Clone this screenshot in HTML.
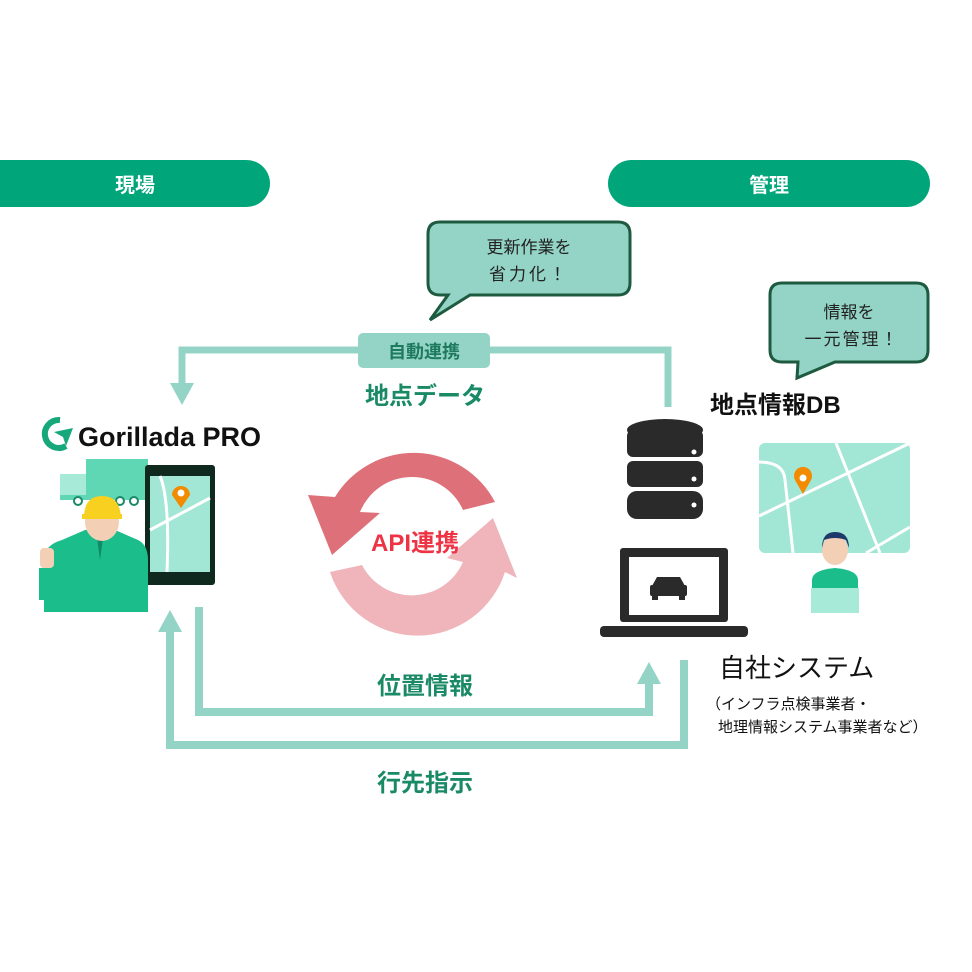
<!DOCTYPE html>
<html><head><meta charset="utf-8"><style>
html,body{margin:0;padding:0;background:#fff}
svg{display:block}
text{font-family:"Liberation Sans","Noto Sans CJK JP",sans-serif}
</style></head><body>
<svg width="972" height="972" viewBox="0 0 972 972" xmlns="http://www.w3.org/2000/svg">
<!-- header pills -->
<rect x="-30" y="160" width="300" height="47" rx="23.5" fill="#00a67a"/>
<text x="135" y="192" font-size="20" font-weight="bold" fill="#fff" text-anchor="middle">現場</text>
<rect x="608" y="160" width="322" height="47" rx="23.5" fill="#00a67a"/>
<text x="769" y="192" font-size="20" font-weight="bold" fill="#fff" text-anchor="middle">管理</text>

<!-- bubble 1 -->
<path d="M440 222 H618 Q630 222 630 234 V283 Q630 295 618 295 H470 L430 320 L448 295 H440 Q428 295 428 283 V234 Q428 222 440 222 Z" fill="#94d4c6" stroke="#1d5a3f" stroke-width="3"/>
<text x="529" y="253" font-size="17" fill="#222" text-anchor="middle">更新作業を</text>
<text x="529" y="280" font-size="17" fill="#222" text-anchor="middle" letter-spacing="3">省力化！</text>
<!-- bubble 2 -->
<path d="M782 283 H916 Q928 283 928 295 V350 Q928 362 916 362 H835 L797 378 L798 362 H782 Q770 362 770 350 V295 Q770 283 782 283 Z" fill="#94d4c6" stroke="#1d5a3f" stroke-width="3"/>
<text x="849" y="318" font-size="17" fill="#222" text-anchor="middle">情報を</text>
<text x="852" y="345" font-size="17" fill="#222" text-anchor="middle" letter-spacing="2">一元管理！</text>

<!-- top connector -->
<path d="M668 407 V350 H182 V385" fill="none" stroke="#94d4c6" stroke-width="7"/>
<polygon points="170,383 194,383 182,405" fill="#94d4c6"/>
<rect x="358" y="333" width="132" height="35" rx="5" fill="#94d4c6"/>
<text x="424" y="358" font-size="18" font-weight="bold" fill="#1e7a5e" text-anchor="middle">自動連携</text>
<text x="425" y="404" font-size="24" font-weight="bold" fill="#1a8a66" text-anchor="middle">地点データ</text>

<!-- bottom connectors -->
<path d="M199 607 V712 H649 V680" fill="none" stroke="#94d4c6" stroke-width="8"/>
<polygon points="637,684 661,684 649,662" fill="#94d4c6"/>
<path d="M684 660 V745 H170 V630" fill="none" stroke="#94d4c6" stroke-width="8"/>
<polygon points="158,632 182,632 170,610" fill="#94d4c6"/>
<text x="425" y="694" font-size="24" font-weight="bold" fill="#1a8a66" text-anchor="middle">位置情報</text>
<text x="425" y="791" font-size="24" font-weight="bold" fill="#1a8a66" text-anchor="middle">行先指示</text>

<!-- API cycle -->
<path d="M495 502 A92 92 0 0 0 335 497 L308 495 L332 555 L380 513 L360 512 A56 56 0 0 1 463 510 Z" fill="#de7079"/>
<path d="M330 572 A92 92 0 0 0 505 572 L517 578 L493 518 L447 558 L463 562 A56 56 0 0 1 362 565 Z" fill="#efb5ba"/>
<text x="415" y="551" font-size="24" font-weight="bold" fill="#ee3344" text-anchor="middle">API連携</text>

<!-- Gorillada logo -->
<path d="M60 420 A14 14 0 1 0 66 446" fill="none" stroke="#16a77a" stroke-width="6"/>
<polygon points="54,432 73,428 66,446 63,437" fill="#16a77a"/>
<text x="78" y="446" font-size="27" font-weight="bold" fill="#111">Gorillada PRO</text>

<!-- truck -->
<rect x="86" y="459" width="62" height="36" fill="#5fd6b4"/>
<path d="M60 474 H86 V497 H60 Z" fill="#a8ead8"/>
<rect x="60" y="495" width="90" height="5" fill="#5fd6b4"/>
<circle cx="78" cy="501" r="4" fill="#fff" stroke="#1b8a6a" stroke-width="2"/>
<circle cx="120" cy="501" r="4" fill="#fff" stroke="#1b8a6a" stroke-width="2"/>
<circle cx="134" cy="501" r="4" fill="#fff" stroke="#1b8a6a" stroke-width="2"/>
<!-- phone -->
<rect x="145" y="465" width="70" height="120" rx="3" fill="#10291f"/>
<rect x="150" y="476" width="60" height="96" fill="#a2e6d6"/>
<path d="M150 530 L210 498 M160 476 Q170 500 167 572" stroke="#fff" stroke-width="3" fill="none"/>
<path d="M181 508 L172 495 A9 9 0 1 1 190 495 Z" fill="#f28b00"/>
<circle cx="181" cy="493" r="3.5" fill="#fff"/>
<!-- worker -->
<path d="M44 612 V560 Q44 545 62 540 L85 530 H115 L138 540 Q148 545 148 560 V612 Z" fill="#1bbd8b"/>
<path d="M96 530 L100 560 L104 530 Z" fill="#0f8a64"/>
<ellipse cx="102" cy="522" rx="17" ry="19" fill="#f2cfb5"/>
<path d="M84 518 Q84 496 102 496 Q120 496 121 518 Z" fill="#f7d020"/>
<rect x="82" y="514" width="40" height="5" fill="#f7d020"/>
<rect x="40" y="548" width="14" height="20" rx="4" fill="#f2cfb5"/>
<path d="M44 568 V600" stroke="#1bbd8b" stroke-width="10"/>

<!-- DB -->
<g fill="#2a2a2a">
<ellipse cx="665" cy="430" rx="38" ry="11"/>
<rect x="627" y="430" width="76" height="27" rx="6"/>
<rect x="627" y="461" width="76" height="26" rx="6"/>
<rect x="627" y="491" width="76" height="28" rx="10"/>
</g>
<circle cx="694" cy="452" r="2.5" fill="#fff"/>
<circle cx="694" cy="479" r="2.5" fill="#fff"/>
<circle cx="694" cy="505" r="2.5" fill="#fff"/>
<text x="710" y="413" font-size="24" font-weight="bold" fill="#111">地点情報DB</text>
<!-- laptop -->
<rect x="620" y="548" width="108" height="74" rx="3" fill="#2a2a2a"/>
<rect x="629" y="557" width="90" height="58" fill="#fff"/>
<rect x="600" y="626" width="148" height="11" rx="4" fill="#2a2a2a"/>
<path d="M657 577 H680 L685 586 H652 Z" fill="#2a2a2a"/>
<rect x="650" y="585" width="37" height="11" rx="2" fill="#2a2a2a"/>
<rect x="652" y="594" width="6" height="6" fill="#2a2a2a"/>
<rect x="679" y="594" width="6" height="6" fill="#2a2a2a"/>
<!-- map -->
<rect x="759" y="443" width="151" height="110" rx="6" fill="#a2e6d6"/>
<path d="M759 516 L910 443 M836 443 L880 553 M759 462 Q784 462 785 480 L793 553 M866 553 L910 527" stroke="#fff" stroke-width="3" fill="none"/>
<path d="M803 494 L795 480 A9 9 0 1 1 811 480 Z" fill="#f28b00"/>
<circle cx="803" cy="478" r="3.5" fill="#fff"/>
<!-- woman -->
<ellipse cx="835" cy="550" rx="13" ry="15" fill="#f2cfb5"/>
<path d="M822 548 Q822 532 835 532 Q849 532 849 548 L846 540 Q835 536 824 540 Z" fill="#1e3a6a"/>
<path d="M812 612 V580 Q812 570 835 568 Q858 570 858 580 V612 Z" fill="#1bbd8b"/>
<rect x="811" y="588" width="48" height="25" fill="#a8ead8"/>

<text x="719" y="677" font-size="26" fill="#111">自社システム</text>
<text x="706" y="709" font-size="15" fill="#111">（インフラ点検事業者・</text>
<text x="718" y="732" font-size="15" fill="#111">地理情報システム事業者など）</text>
</svg>
</body></html>
